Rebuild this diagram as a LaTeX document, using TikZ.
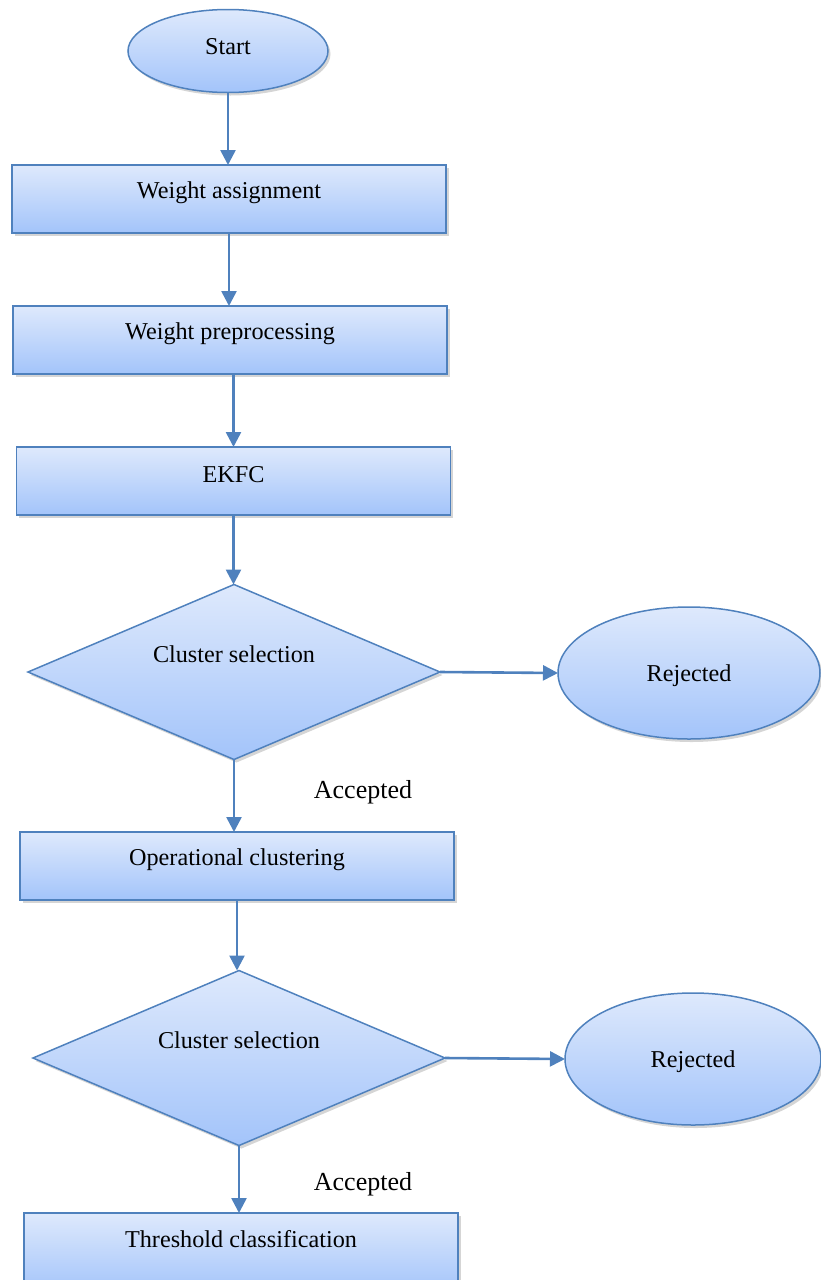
\documentclass[tikz,border=0pt]{standalone}
\usepackage{fontspec}
\setmainfont{Liberation Serif}
\usetikzlibrary{shapes.geometric,arrows.meta,shadows}
\definecolor{bord}{RGB}{79,129,189}
\definecolor{topc}{RGB}{222,233,252}
\definecolor{botc}{RGB}{163,196,250}
\tikzset{
  shp/.style={draw=bord, line width=1.5pt, top color=topc, bottom color=botc,
    inner sep=0pt, outer sep=0pt,
    drop shadow={shadow xshift=2.5pt, shadow yshift=-3pt, opacity=0.3, fill=black!55}},
  boxnode/.style={shp, rectangle, minimum width=434pt, minimum height=68pt},
  ovalnode/.style={shp, ellipse},
  decnode/.style={shp, diamond, minimum width=412pt, minimum height=175pt},
  txt/.style={font=\fontsize{24.2}{27}\selectfont, inner sep=0pt},
  lbl/.style={font=\fontsize{26}{28}\selectfont, inner sep=0pt},
  arr/.style={draw=bord, line width=2.6pt, -{Triangle[length=15pt,width=15pt]}}
}
\begin{document}
\begin{tikzpicture}[x=1pt,y=-1pt]
\useasboundingbox (0,0) rectangle (820,1280);
% shapes
\node[ovalnode, minimum width=200pt, minimum height=83pt] (start) at (228,51) {};
\node[boxnode] (b1) at (229,199) {};
\node[boxnode] (b2) at (230,340) {};
\node[boxnode] (b3) at (233.5,481) {};
\node[decnode] (d1) at (234,672) {};
\node[ovalnode, minimum width=262pt, minimum height=132pt] (r1) at (689,673) {};
\node[boxnode] (b4) at (237,866) {};
\node[decnode] (d2) at (239,1058) {};
\node[ovalnode, minimum width=256pt, minimum height=132pt] (r2) at (693,1059) {};
\node[boxnode, minimum height=80pt] (b5) at (241,1253) {};
% texts
\node[txt] (tstart) at ([yshift=4pt]start.center) {Start};
\node[txt] (t1) at ([yshift=6pt]b1.center) {Weight assignment};
\node[txt] (t2) at ([yshift=6pt]b2.center) {Weight preprocessing};
\node[txt] (t3) at ([yshift=6pt]b3.center) {EKFC};
\node[txt] (td1) at ([yshift=18pt]d1.center) {Cluster selection};
\node[txt] (tr1) at ([yshift=-2.5pt]r1.center) {Rejected};
\node[txt] (t4) at ([yshift=6pt]b4.center) {Operational clustering};
\node[txt] (td2) at ([yshift=18pt]d2.center) {Cluster selection};
\node[txt] (tr2) at ([yshift=-2.5pt]r2.center) {Rejected};
\node[txt] (t5) at (241,1239) {Threshold classification};
\node[lbl] (a1) at (363,792) {Accepted};
\node[lbl] (a2) at (363,1184) {Accepted};
% connectors
\draw[arr] (start.south) -- (start.south |- b1.north);
\draw[arr] (b1.south) -- (b1.south |- b2.north);
\draw[arr] (b3.north |- b2.south) -- (b3.north);
\draw[arr] (b3.south) -- (b3.south |- d1.north);
\draw[arr] (d1.east) -- (r1.west);
\draw[arr] (d1.south) -- (d1.south |- b4.north);
\draw[arr] (b4.south) -- (b4.south |- d2.north);
\draw[arr] (d2.east) -- (r2.west);
\draw[arr] (d2.south) -- (d2.south |- b5.north);
\end{tikzpicture}
\end{document}
